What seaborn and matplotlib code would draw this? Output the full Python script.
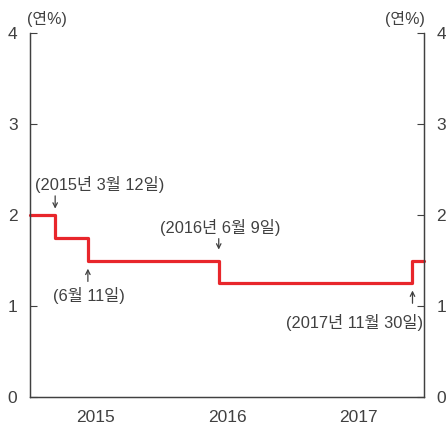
import matplotlib
matplotlib.use("Agg")
import matplotlib.pyplot as plt
import seaborn as sns
import pandas as pd

# Base rate history (steps change on the given dates)
dates = ["2015-01-01", "2015-03-12", "2015-06-11", "2016-06-09", "2017-11-30", "2018-01-01"]
rates = [2.00, 1.75, 1.50, 1.25, 1.50, 1.50]
year_labels = ["2015", "2016", "2017"]
y_ticks = [0, 1, 2, 3, 4]

df = pd.DataFrame({"date": pd.to_datetime(dates), "rate": rates})

sns.set_theme(style="white")
plt.rcParams["font.family"] = ["Liberation Sans", "Noto Sans CJK KR", "DejaVu Sans"]

text_color = "#404040"
red = "#e8262b"

fig = plt.figure(figsize=(4.46, 4.28), dpi=100)
ax = fig.add_axes([30 / 446, 31 / 428, 394 / 446, 364 / 428])

sns.lineplot(data=df, x="date", y="rate", ax=ax, color=red, linewidth=2.3,
             drawstyle="steps-post", clip_on=False)

ax.set_xlim(pd.Timestamp("2015-01-01"), pd.Timestamp("2018-01-01"))
ax.set_ylim(0, 4)
ax.set_xlabel("")
ax.set_ylabel("")

# x axis: ticks at year boundaries, labels centred within each year
ax.set_xticks(pd.to_datetime(["2016-01-01", "2017-01-01"]))
ax.set_xticklabels([])
ax.set_xticks(pd.to_datetime([f"{y}-07-02" for y in year_labels]), minor=True)
ax.set_xticklabels(year_labels, minor=True)
ax.tick_params(axis="x", which="major", direction="in", length=5, width=0.8,
               color=text_color)
ax.tick_params(axis="x", which="minor", length=0, pad=9, labelsize=12.5,
               labelcolor=text_color)

ax.set_yticks(y_ticks)
ax.set_yticklabels([str(v) for v in y_ticks])
ax.tick_params(axis="y", direction="in", length=5, width=0.8, color=text_color,
               labelsize=12.5, labelcolor=text_color, pad=9)

ax2 = ax.twinx()
ax2.set_ylim(0, 4)
ax2.set_yticks(y_ticks)
ax2.set_yticklabels([str(v) for v in y_ticks])
ax2.tick_params(axis="y", direction="in", length=5, width=0.8, color=text_color,
                labelsize=12.5, labelcolor=text_color, pad=9)

for a in (ax, ax2):
    a.spines["top"].set_visible(False)
    for s in ("left", "right", "bottom"):
        a.spines[s].set_color(text_color)
        a.spines[s].set_linewidth(0.9)
    a.grid(False)

# units
fig.text(47 / 446, 1 - 19 / 428, "(연%)", ha="center", va="center",
         fontsize=11.5, color=text_color)
fig.text(405 / 446, 1 - 19 / 428, "(연%)", ha="center", va="center",
         fontsize=11.5, color=text_color)

# change-date annotations with small arrows
arrow_kw = dict(arrowstyle="->", color=text_color, lw=0.9, mutation_scale=8,
                shrinkA=0, shrinkB=0)
notes = [
    ("(2015년 3월 12일)", "2015-03-12", "2015-07-14", 2.33, 2.21, 2.07),
    ("(6월 11일)", "2015-06-11", "2015-06-15", 1.12, 1.27, 1.41),
    ("(2016년 6월 9일)", "2016-06-09", "2016-06-13", 1.86, 1.74, 1.62),
    ("(2017년 11월 30일)", "2017-11-30", "2017-06-21", 0.82, 1.03, 1.17),
]
for label, d, tx, ty, a0, a1 in notes:
    ax.text(pd.Timestamp(tx), ty, label, ha="center", va="center",
            fontsize=11.8, color=text_color)
    ax.annotate("", xy=(pd.Timestamp(d), a1), xytext=(pd.Timestamp(d), a0),
                arrowprops=arrow_kw)

fig.savefig("out.png", dpi=100)
